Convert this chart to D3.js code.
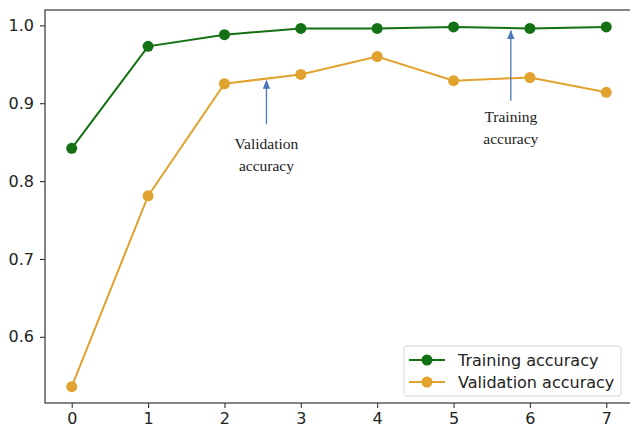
<!DOCTYPE html>
<html>
<head>
<meta charset="utf-8">
<script src="https://cdn.jsdelivr.net/npm/d3@7"></script>
<style>
  html, body { margin: 0; padding: 0; background: #fff; }
  svg { display: block; }
</style>
</head>
<body>
<svg id="chart" width="630" height="427"></svg>
<script>
// Accuracy per epoch
const epochs = [0, 1, 2, 3, 4, 5, 6, 7];
const trainingAcc = [0.842, 0.973, 0.988, 0.996, 0.996, 0.998, 0.996, 0.998];
const validationAcc = [0.536, 0.781, 0.925, 0.937, 0.960, 0.929, 0.933, 0.914];
const yTicks = [0.6, 0.7, 0.8, 0.9, 1.0];
const seriesNames = ["Training accuracy", "Validation accuracy"];
const seriesColors = ["#137013", "#e2a22e"];

const svg = d3.select("#chart");
const plotLeft = 45, plotRight = 633, plotTop = 10, plotBottom = 403;

const x = d3.scaleLinear().domain([-0.35, 7.35]).range([plotLeft, plotRight]);
const y = d3.scaleLinear().domain([0.515, 1.0197]).range([plotBottom, plotTop]);

// frame
svg.append("rect")
  .attr("x", plotLeft).attr("y", plotTop)
  .attr("width", plotRight - plotLeft).attr("height", plotBottom - plotTop)
  .attr("fill", "none").attr("stroke", "#333").attr("stroke-width", 1.2);

// axes
const xAxis = svg.append("g")
  .attr("transform", `translate(0,${plotBottom})`)
  .call(d3.axisBottom(x).tickValues(epochs).tickFormat(d3.format("d")).tickSize(5).tickPadding(5));
const yAxis = svg.append("g")
  .attr("transform", `translate(${plotLeft},0)`)
  .call(d3.axisLeft(y).tickValues(yTicks).tickFormat(d3.format(".1f")).tickSize(5).tickPadding(6));
[xAxis, yAxis].forEach(g => {
  g.select(".domain").remove();
  g.selectAll("line").attr("stroke", "#333").attr("stroke-width", 1.1);
  g.selectAll("text")
    .attr("fill", "#222")
    .style("font-family", "'DejaVu Sans', sans-serif")
    .style("font-size", "16px");
});

const series = [trainingAcc, validationAcc];
const line = d3.line().x((d, i) => x(epochs[i])).y(d => y(d));

series.forEach((vals, si) => {
  svg.append("path")
    .datum(vals)
    .attr("d", line)
    .attr("fill", "none")
    .attr("stroke", seriesColors[si])
    .attr("stroke-width", 2);
  svg.append("g").selectAll("circle")
    .data(vals)
    .join("circle")
    .attr("cx", (d, i) => x(epochs[i]))
    .attr("cy", d => y(d))
    .attr("r", 5.5)
    .attr("fill", seriesColors[si]);
});

// annotations with arrows
const defs = svg.append("defs");
defs.append("marker")
  .attr("id", "arrowhead")
  .attr("viewBox", "0 0 10 10")
  .attr("refX", 9).attr("refY", 5)
  .attr("markerWidth", 7).attr("markerHeight", 7)
  .attr("orient", "auto-start-reverse")
  .append("path")
  .attr("d", "M0,1 L10,5 L0,9 Z")
  .attr("fill", "#4a78b8");

const notes = [
  { label: ["Validation", "accuracy"], ex: 2.55, tipV: 0.929, baseV: 0.873, textTop: 137 },
  { label: ["Training", "accuracy"], ex: 5.75, tipV: 0.993, baseV: 0.903, textTop: 110 }
];
notes.forEach(n => {
  svg.append("line")
    .attr("x1", x(n.ex)).attr("x2", x(n.ex))
    .attr("y1", y(n.baseV)).attr("y2", y(n.tipV))
    .attr("stroke", "#4a78b8").attr("stroke-width", 1.3)
    .attr("marker-end", "url(#arrowhead)");
  n.label.forEach((t, i) => {
    svg.append("text")
      .attr("x", x(n.ex)).attr("y", n.textTop + 12 + i * 22)
      .attr("text-anchor", "middle")
      .attr("fill", "#222")
      .style("font-family", "'Liberation Serif', 'DejaVu Serif', serif")
      .style("font-size", "15.5px")
      .text(t);
  });
});

// legend
const legend = svg.append("g").attr("transform", "translate(404,346)");
legend.append("rect")
  .attr("width", 217).attr("height", 50).attr("rx", 3)
  .attr("fill", "#fff").attr("fill-opacity", 0.85)
  .attr("stroke", "#d6d6d6");
seriesNames.forEach((name, i) => {
  const row = legend.append("g").attr("transform", `translate(0,${14 + i * 22})`);
  row.append("line").attr("x1", 5).attr("x2", 41)
    .attr("stroke", seriesColors[i]).attr("stroke-width", 2);
  row.append("circle").attr("cx", 23).attr("r", 5.5).attr("fill", seriesColors[i]);
  row.append("text").attr("x", 54).attr("y", 6)
    .attr("fill", "#222")
    .style("font-family", "'DejaVu Sans', sans-serif")
    .style("font-size", "16px")
    .text(name);
});
</script>
</body>
</html>
